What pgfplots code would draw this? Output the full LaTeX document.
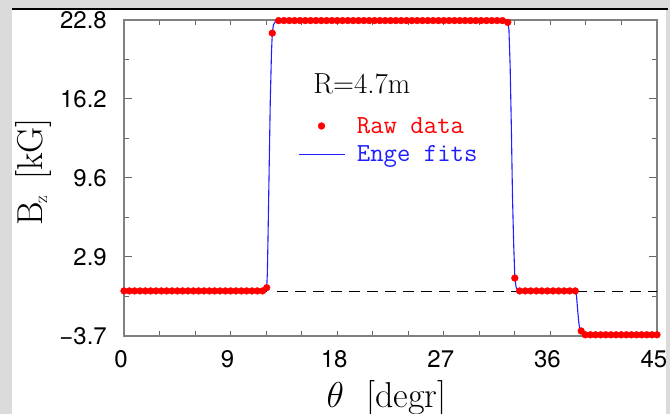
\RequirePackage{fix-cm}
\documentclass[border=0pt]{standalone}
\usepackage{pgfplots}
\pgfplotsset{compat=1.18}
\usepackage{fontspec}
\setsansfont{TeX Gyre Heros}
\definecolor{fitblue}{RGB}{30,30,255}
\begin{document}
\begin{tikzpicture}
\fill[black!14] (0,0) rectangle (670pt,414pt);
\useasboundingbox (0,0) rectangle (670pt,414pt);
\fill[white] (12pt,0) rectangle (666pt,403.5pt);
\draw[black, line width=2pt] (12pt,404.7pt) -- (668pt,404.7pt);
\begin{axis}[
  at={(124pt,78pt)}, anchor=south west,
  scale only axis, width=533pt, height=316pt,
  xmin=0, xmax=45, ymin=-3.7, ymax=22.8,
  clip=false,
  axis line style={black!50, line width=1.1pt},
  xtick={0,9,18,27,36,45},
  xticklabels={0,9,18,27,36,45},
  minor xtick={3,6,...,42},
  major x tick style={draw=none},
  ytick={-3.7,2.925,9.55,16.175,22.8},
  yticklabels={−3.7,2.9,9.6,16.2,22.8},
  minor ytick={-0.3875,6.2375,12.8625,19.4875},
  major tick length=8pt, minor tick length=5pt,
  tick style={black!60, line width=1pt},
  tick label style={font=\sffamily\fontsize{24}{24}\selectfont, inner sep=0pt},
  xticklabel style={anchor=north, yshift=-14pt, xshift=-3pt},
  yticklabel style={anchor=east, xshift=-17pt},
  xlabel={$\theta$\hspace{22pt}[degr]},
  xlabel style={font=\fontsize{36}{36}\selectfont, at={(axis description cs:0.4925,-0.2247)}, anchor=base},
  ylabel={B\kern-2pt\raisebox{-5pt}{\fontsize{19}{19}\selectfont z}\hspace{16pt}[kG]},
  ylabel style={font=\fontsize{36}{36}\selectfont, at={(axis description cs:-0.1538,0.52)}, anchor=base, rotate=0},
  legend image code/.code={\draw[mark repeat=2,mark phase=2,#1] plot coordinates {(0pt,0pt) (23pt,0pt) (46pt,0pt)};},
  legend style={draw=none, fill=none, at={(0.326,0.699)}, anchor=north west, inner sep=0pt,
    column sep=10pt, row sep=7pt, font=\ttfamily\fontsize{26}{26}\selectfont},
  legend cell align=left,
]
\addplot[only marks, mark=*, mark size=3.4pt, color=red, mark options={draw=red, fill=red}] coordinates {
(0,0.08) (0.45,0.08) (0.9,0.08) (1.35,0.08) (1.8,0.08) (2.25,0.08) (2.7,0.08) (3.15,0.08) (3.6,0.08)
(4.05,0.08) (4.5,0.08) (4.95,0.08) (5.4,0.08) (5.85,0.08) (6.3,0.08) (6.75,0.08) (7.2,0.08) (7.65,0.08)
(8.1,0.08) (8.55,0.08) (9.0,0.08) (9.45,0.08) (9.9,0.08) (10.35,0.08) (10.8,0.08) (11.25,0.08) (11.7,0.08)
(12.05,0.35) (12.52,21.7)
(13.05,22.75) (13.5,22.75) (13.95,22.75) (14.4,22.75) (14.85,22.75) (15.3,22.75) (15.75,22.75) (16.2,22.75)
(16.65,22.75) (17.1,22.75) (17.55,22.75) (18.0,22.75) (18.45,22.75) (18.9,22.75) (19.35,22.75) (19.8,22.75)
(20.25,22.75) (20.7,22.75) (21.15,22.75) (21.6,22.75) (22.05,22.75) (22.5,22.75) (22.95,22.75) (23.4,22.75)
(23.85,22.75) (24.3,22.75) (24.75,22.75) (25.2,22.75) (25.65,22.75) (26.1,22.75) (26.55,22.75) (27.0,22.75)
(27.45,22.75) (27.9,22.75) (28.35,22.75) (28.8,22.75) (29.25,22.75) (29.7,22.75) (30.15,22.75) (30.6,22.75)
(31.05,22.75) (31.5,22.75) (31.95,22.75) (32.4,22.6)
(33.0,1.16)
(33.4,0.08) (33.87,0.08) (34.34,0.08) (34.81,0.08) (35.28,0.08) (35.75,0.08) (36.22,0.08) (36.69,0.08)
(37.16,0.08) (37.63,0.08) (38.1,0.08)
(38.6,-3.28)
(38.95,-3.6) (39.38,-3.6) (39.81,-3.6) (40.25,-3.6) (40.68,-3.6) (41.11,-3.6) (41.54,-3.6) (41.97,-3.6)
(42.41,-3.6) (42.84,-3.6) (43.27,-3.6) (43.7,-3.6) (44.14,-3.6) (44.57,-3.6) (45.0,-3.6)
};
\addlegendentry{\phantom{Raw data}}
\addplot[fitblue, line width=1.1pt, mark=none] coordinates {
(0,0.08) (11.9,0.08) (12.0,0.15) (12.05,0.35) (12.1,1.5) (12.15,4) (12.25,10) (12.35,16) (12.45,20)
(12.52,21.7) (12.62,22.4) (12.8,22.7) (13.1,22.75) (32.2,22.75) (32.4,22.6) (32.5,22.0) (32.6,19)
(32.7,14) (32.8,8) (32.9,4) (33.0,1.16) (33.1,0.4) (33.25,0.1) (33.4,0.08) (38.1,0.08) (38.2,-0.3)
(38.3,-1.5) (38.4,-2.6) (38.5,-3.15) (38.6,-3.35) (38.75,-3.55) (38.95,-3.6) (45,-3.6)
};
\addlegendentry{\phantom{Enge fits}}
\addplot[black, line width=1.2pt, forget plot] coordinates {(0,0) (12.05,0)};
\addplot[black, line width=1.2pt, forget plot] coordinates {(33.4,0) (38.1,0)};
\addplot[black, line width=1.2pt, dash pattern=on 11pt off 7pt, forget plot] coordinates {(12.9,0) (33.3,0)};
\addplot[black, line width=1.2pt, dash pattern=on 11pt off 7pt, forget plot] coordinates {(38.2,0) (45,0)};
\node[anchor=base west, font=\fontsize{29}{29}\selectfont] at (axis cs:15.7,16.67) {R=4.7m};
\node[anchor=base west, inner sep=0pt, font=\ttfamily\fontsize{26}{26}\selectfont] at (axis cs:19.65,13.32) {\textcolor{red}{Raw data}};
\node[anchor=base west, inner sep=0pt, font=\ttfamily\fontsize{26}{26}\selectfont] at (axis cs:19.65,10.97) {\textcolor{fitblue}{Enge fits}};
\end{axis}
\end{tikzpicture}
\end{document}
